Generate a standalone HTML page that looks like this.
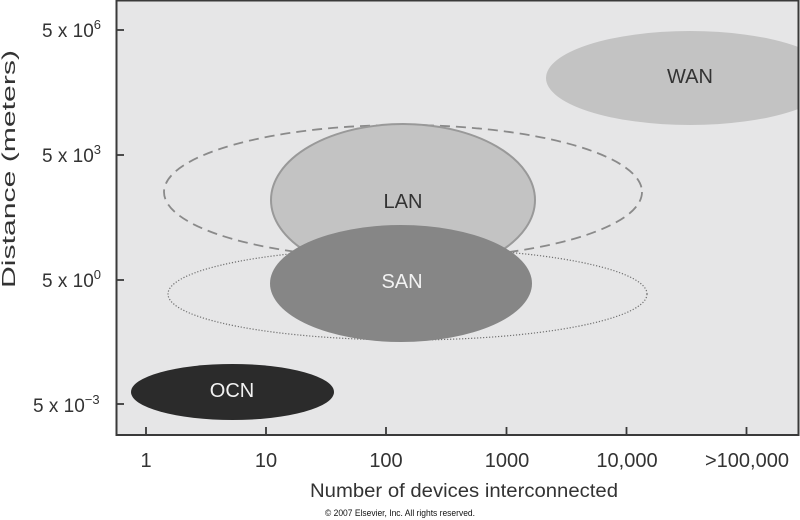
<!DOCTYPE html>
<html>
<head>
<meta charset="utf-8">
<style>
html,body{margin:0;padding:0;background:#fff;}
svg{display:block;}
text{font-family:"Liberation Sans",Arial,sans-serif;}
</style>
</head>
<body>
<svg width="800" height="520" viewBox="0 0 800 520" xmlns="http://www.w3.org/2000/svg">
  <defs>
    <clipPath id="plot"><rect x="117" y="1" width="681" height="433"/></clipPath>
  </defs>
  <rect x="0" y="0" width="800" height="520" fill="#ffffff"/>
  <rect x="116" y="0" width="683" height="435" fill="#e6e6e7"/>
  <g clip-path="url(#plot)">
    <ellipse cx="690" cy="78" rx="144" ry="47" fill="#c3c3c3"/>
    <ellipse cx="403" cy="192" rx="239" ry="67" fill="none" stroke="#8a8a8a" stroke-width="1.8" stroke-dasharray="10,6"/>
    <ellipse cx="407.5" cy="294" rx="239.5" ry="46" fill="none" stroke="#707070" stroke-width="1.2" stroke-dasharray="1.2,1.8"/>
    <ellipse cx="403" cy="200" rx="132" ry="76" fill="#c3c3c3" stroke="#999999" stroke-width="2"/>
    <ellipse cx="401" cy="283.5" rx="131" ry="58.5" fill="#868686"/>
    <ellipse cx="232.5" cy="392" rx="101.5" ry="28" fill="#2b2b2b"/>
  </g>
  <!-- frame -->
  <rect x="116.5" y="0.5" width="682" height="434.5" fill="none" stroke="#3a3a3a" stroke-width="2"/>
  <!-- ticks -->
  <g stroke="#3a3a3a" stroke-width="1.8">
    <line x1="116" y1="30" x2="124" y2="30"/>
    <line x1="116" y1="155" x2="124" y2="155"/>
    <line x1="116" y1="280" x2="124" y2="280"/>
    <line x1="116" y1="404" x2="124" y2="404"/>
    <line x1="146" y1="435" x2="146" y2="427"/>
    <line x1="266" y1="435" x2="266" y2="427"/>
    <line x1="386" y1="435" x2="386" y2="427"/>
    <line x1="506.5" y1="435" x2="506.5" y2="427"/>
    <line x1="626.5" y1="435" x2="626.5" y2="427"/>
    <line x1="746.5" y1="435" x2="746.5" y2="427"/>
  </g>
  <!-- ellipse labels -->
  <g font-size="20" text-anchor="middle">
    <text x="690" y="83" fill="#333">WAN</text>
    <text x="403" y="208" fill="#333">LAN</text>
    <text x="402" y="288" fill="#f2f2f2">SAN</text>
    <text x="232" y="397" fill="#f2f2f2">OCN</text>
  </g>
  <!-- y tick labels -->
  <g font-size="19" fill="#333">
    <text x="42" y="37">5 x 10<tspan font-size="13" dy="-8">6</tspan></text>
    <text x="42" y="162">5 x 10<tspan font-size="13" dy="-8">3</tspan></text>
    <text x="42" y="287">5 x 10<tspan font-size="13" dy="-8">0</tspan></text>
    <text x="33" y="412">5 x 10<tspan font-size="13" dy="-8">−3</tspan></text>
  </g>
  <!-- x tick labels -->
  <g font-size="20" fill="#333" text-anchor="middle">
    <text x="146" y="467">1</text>
    <text x="266" y="467">10</text>
    <text x="386" y="467">100</text>
    <text x="507" y="467">1000</text>
    <text x="627" y="467">10,000</text>
    <text x="747" y="467">&gt;100,000</text>
  </g>
  <!-- axis titles -->
  <text x="310" y="497" font-size="19" fill="#333" textLength="308" lengthAdjust="spacingAndGlyphs">Number of devices interconnected</text>
  <text transform="translate(15,169) rotate(-90)" x="0" y="0" font-size="18" fill="#333" text-anchor="middle" textLength="238" lengthAdjust="spacingAndGlyphs">Distance (meters)</text>
  <!-- copyright -->
  <text x="325" y="516" font-size="9" fill="#111" textLength="150" lengthAdjust="spacingAndGlyphs">© 2007 Elsevier, Inc. All rights reserved.</text>
</svg>
</body>
</html>
